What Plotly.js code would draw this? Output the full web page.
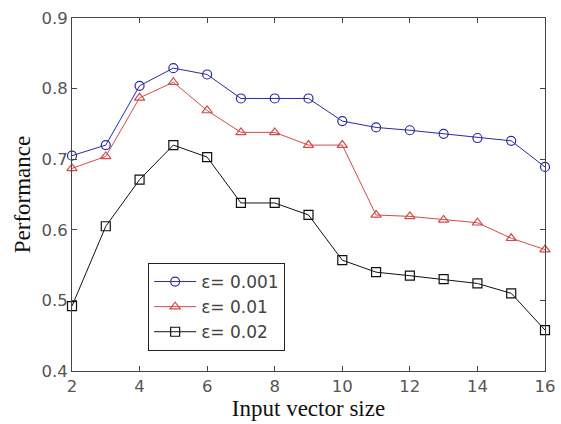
<!DOCTYPE html>
<html><head><meta charset="utf-8">
<script src="https://cdn.plot.ly/plotly-3.0.1.min.js"></script>
<style>body{margin:0;background:#fff}#c{width:561px;height:424px}</style>
</head><body><div id="c"></div>
<script>
const xs = [2,3,4,5,6,7,8,9,10,11,12,13,14,15,16];
const eps001 = [0.705,0.720,0.804,0.829,0.820,0.786,0.786,0.786,0.754,0.745,0.741,0.736,0.730,0.726,0.689];
const eps01  = [0.687,0.704,0.787,0.809,0.769,0.738,0.738,0.720,0.720,0.621,0.619,0.614,0.610,0.588,0.572];
const eps02  = [0.492,0.605,0.671,0.720,0.703,0.638,0.638,0.621,0.557,0.540,0.535,0.530,0.524,0.510,0.458];
const names = ['ε= 0.001','ε= 0.01','ε= 0.02'];

const mk = (y, name, color, sym) => ({
  x: xs, y: y, name: name, type: 'scatter', mode: 'lines+markers', cliponaxis: false,
  line: {color: color, width: 1},
  marker: {symbol: sym, size: 9, color: color, line: {color: color, width: 1.2}}
});
const data = [
  mk(eps001, names[0], '#2a2aa8', 'circle-open'),
  mk(eps01, names[1], '#d24a4a', 'triangle-up-open'),
  mk(eps02, names[2], '#111111', 'square-open')
];
const axbase = {
  showgrid: false, zeroline: false, showline: true, mirror: 'ticks',
  linecolor: '#444', linewidth: 1, ticks: 'inside', ticklen: 5, tickcolor: '#444',
  tickfont: {family: 'DejaVu Sans', size: 16.5, color: '#555'}
};
const layout = {
  width: 561, height: 424,
  margin: {l: 72, r: 16, t: 18, b: 53},
  paper_bgcolor: '#fff', plot_bgcolor: '#fff',
  showlegend: true,
  legend: {x: 0.161, y: 0.306, xanchor: 'left', yanchor: 'top', itemwidth: 42,
    bordercolor: '#222', borderwidth: 1, bgcolor: '#fff',
    font: {family: 'DejaVu Sans', size: 17, color: '#444'}, tracegroupgap: 0},
  xaxis: Object.assign({}, axbase, {range: [2, 16], tickvals: [2,4,6,8,10,12,14,16],
    title: {text: 'Input vector size', font: {family: 'Liberation Serif', size: 23, color: '#111'}, standoff: 4}}),
  yaxis: Object.assign({}, axbase, {range: [0.4, 0.9], tickvals: [0.4,0.5,0.6,0.7,0.8,0.9],
    tickformat: '.1f',
    title: {text: 'Performance', font: {family: 'Liberation Serif', size: 23, color: '#111'}, standoff: 4}})
};
Plotly.newPlot('c', data, layout, {staticPlot: true, displayModeBar: false});
</script></body></html>
